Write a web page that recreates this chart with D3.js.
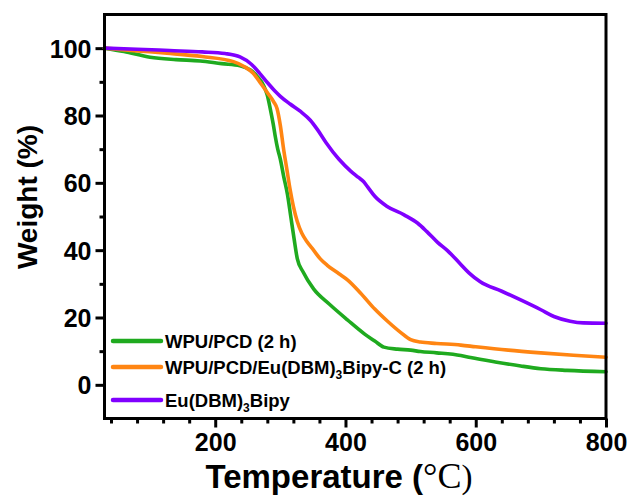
<!DOCTYPE html>
<html>
<head>
<meta charset="utf-8">
<script src="https://cdn.jsdelivr.net/npm/d3@7"></script>
<style>
  body { margin: 0; background: #fff; }
  svg { display: block; }
  text { font-family: Arial, "Liberation Sans", sans-serif; font-weight: bold; fill: #000; }
</style>
</head>
<body>
<div class="tga-container"></div>
<script>
// TGA curves: [temperature, weight %]
const wpuPcd = [[30,100],[60,99],[100,97.3],[140,96.6],[177,96.2],[210,95.4],[238,94.8],[254,93.5],[265,91.5],[274,89],[280,86],[285,81.5],[289,77.5],[292,74],[296,70],[300,67],[305,62],[311,56.5],[316,50],[321,43.5],[326,37.5],[335,33.5],[351,28.5],[375,24],[403,19.3],[430,15],[445,13],[459,11.2],[480,10.6],[500,10.3],[515,9.9],[540,9.5],[577,8.7],[592,8.1],[630,6.8],[669,5.6],[700,4.8],[740,4.3],[800,3.9]];
const wpuPcdEu = [[30,100],[80,99.2],[126,98.5],[180,97.5],[228,96],[245,94.5],[258,92.6],[270,89.5],[280,86.8],[290,84],[295,82],[300,77],[305,70],[310,64],[315,58],[320,53],[326,48.5],[333,45],[341,42.5],[351,40],[361,37.5],[372,35.5],[390,33],[403,31.2],[423,27.3],[445,22.5],[465,18.8],[485,15.5],[500,13.4],[515,12.7],[540,12.3],[577,11.8],[600,11.3],[650,10.3],[700,9.5],[750,8.8],[800,8.2]];
const euDbmBipy = [[30,100],[80,99.7],[130,99.3],[180,98.9],[215,98.4],[238,97.4],[255,95.3],[268,92.6],[280,89.8],[292,87.2],[300,85.7],[315,83.4],[331,81.2],[346,78.6],[357,75.8],[370,72],[390,67],[408,63.5],[420,61.6],[428,60.3],[434,58.8],[445,56],[464,53],[490,50.5],[511,48],[525,45.5],[541,42.4],[557,39.8],[575,36.2],[590,33.2],[607,30.6],[640,27.8],[669,25.2],[700,22.3],[720,20.3],[745,18.9],[765,18.4],[800,18.3]];

const seriesNames = ['WPU/PCD (2 h)', 'WPU/PCD/Eu(DBM)3Bipy-C (2 h)', 'Eu(DBM)3Bipy'];
const seriesData = [wpuPcd, wpuPcdEu, euDbmBipy];
const seriesColors = ['#1faa1f', '#ff8512', '#8000ff'];

const xMajor = [200, 400, 600, 800];
const yMajor = [0, 20, 40, 60, 80, 100];

const width = 630, height = 497;
const margin = {top: 14.5, right: 24, bottom: 78.5, left: 104.5};

const svg = d3.select('.tga-container')
.append('svg')
.attr('width', width)
.attr('height', height);

let x = d3.scaleLinear()
.domain([30, 800])
.range([margin.left, width - margin.right]);

let y = d3.scaleLinear()
.domain([-10, 110])
.range([height - margin.bottom, margin.top]);

const xMinor = d3.range(40, 800, 40).filter(d => xMajor.indexOf(d) == -1);
const yMinor = d3.range(10, 100, 20);

// minor ticks first, majors on top
svg.append('g')
.attr('transform', 'translate(0,' + y(-10) + ')')
.call(d3.axisBottom(x).tickValues(xMinor).tickSize(5).tickFormat(''))
.call(g => g.select('.domain').remove());

svg.append('g')
.attr('transform', 'translate(' + x(30) + ',0)')
.call(d3.axisLeft(y).tickValues(yMinor).tickSize(5).tickFormat(''))
.call(g => g.select('.domain').remove());

const xAxis = svg.append('g')
.attr('transform', 'translate(0,' + y(-10) + ')')
.call(d3.axisBottom(x).tickValues(xMajor).tickSize(9).tickPadding(6))
.call(g => g.select('.domain').remove());

const yAxis = svg.append('g')
.attr('transform', 'translate(' + x(30) + ',0)')
.call(d3.axisLeft(y).tickValues(yMajor).tickSize(9).tickPadding(4))
.call(g => g.select('.domain').remove());

svg.selectAll('.tick line')
.attr('stroke', '#000')
.attr('stroke-width', 3);

svg.selectAll('.tick text')
.style('font-size', '25px')
.style('font-family', 'Arial, "Liberation Sans", sans-serif')
.style('font-weight', 'bold');

yAxis.selectAll('.tick text').attr('dy', '0.36em');

let line = d3.line()
.x(d => x(d[0]))
.y(d => y(d[1]))
.curve(d3.curveMonotoneX);

svg.append('g')
.selectAll('path')
.data(seriesData)
.enter()
.append('path')
.attr('d', line)
.attr('fill', 'none')
.attr('stroke', (d, i) => seriesColors[i])
.attr('stroke-width', 3.6)
.attr('stroke-linejoin', 'round')
.attr('stroke-linecap', 'round');

// frame
svg.append('rect')
.attr('x', x(30))
.attr('y', y(110))
.attr('width', x(800) - x(30))
.attr('height', y(-10) - y(110))
.attr('fill', 'none')
.attr('stroke', '#000')
.attr('stroke-width', 3);

// legend
const legendRows = [341, 367, 400];

const legend = svg.append('g');

seriesNames.forEach((name, i) => {

	legend.append('line')
	.attr('x1', 113)
	.attr('x2', 161)
	.attr('y1', legendRows[i])
	.attr('y2', legendRows[i])
	.attr('stroke', seriesColors[i])
	.attr('stroke-width', 4.5)
	.attr('stroke-linecap', 'round');

	let t = legend.append('text')
	.attr('x', 165)
	.attr('y', legendRows[i] + 6.5)
	.style('font-size', '18.5px');

	let parts = name.split('3');
	if(parts.length > 1)
	{
		t.append('tspan').text(parts[0]);
		t.append('tspan').text('3').style('font-size', '12px').attr('dy', 5);
		t.append('tspan').text(parts[1]).attr('dy', -5);
	}
	else t.text(name);
});

// axis titles
svg.append('text')
.attr('transform', 'translate(37,197) rotate(-90)')
.attr('text-anchor', 'middle')
.style('font-size', '28px')
.text('Weight (%)');

const xTitle = svg.append('text')
.attr('x', 339)
.attr('y', 488)
.attr('text-anchor', 'middle')
.style('font-size', '33px');

xTitle.append('tspan').text('Temperature (');
xTitle.append('tspan').text('°C')
.style('font-family', '"Liberation Serif", "Times New Roman", serif')
.style('font-weight', 'normal')
.style('font-size', '36px');
xTitle.append('tspan').text(')')
.style('font-family', '"Liberation Serif", "Times New Roman", serif')
.style('font-weight', 'normal');
</script>
</body>
</html>
